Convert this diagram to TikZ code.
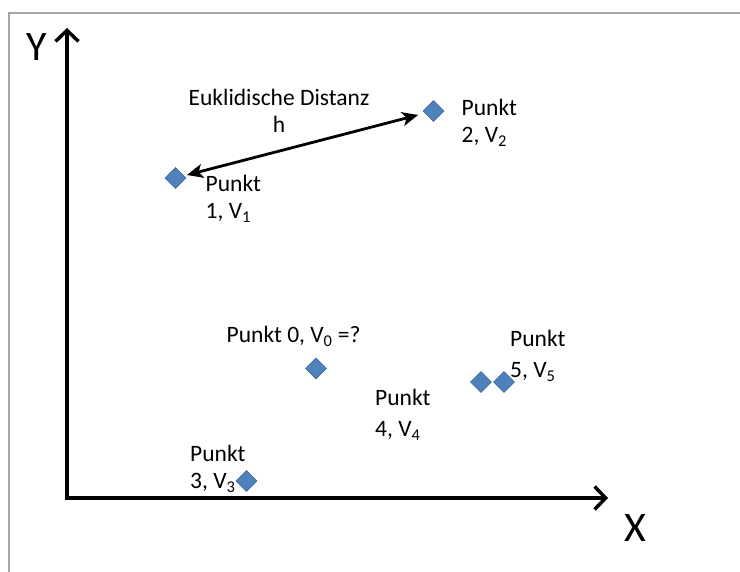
\documentclass[tikz,border=0pt]{standalone}
\usepackage{fontspec}
\setmainfont{Carlito}
\usetikzlibrary{arrows.meta,shapes.geometric}
\definecolor{pblue}{HTML}{4F81BD}
\definecolor{rahmen}{HTML}{A6A6A6}
\tikzset{
	punkt/.style={diamond,fill=pblue,draw=pblue!85!black,line width=0.6pt,inner sep=0pt,minimum size=21pt},
	lbl/.style={font=\fontsize{23.5}{27.5}\selectfont,inner sep=0pt,align=left,anchor=base west},
	lblweit/.style={lbl,font=\fontsize{23.5}{32}\selectfont},
	achse/.style={line width=3.5pt,line join=miter,{Straight Barb[length=11pt,width=23pt]}-{Straight Barb[length=11pt,width=23pt]}},
	achslbl/.style={font=\fontsize{42}{42}\selectfont,inner sep=0pt}
}

\begin{document}
\begin{tikzpicture}[x=1pt,y=-1pt]
				\useasboundingbox (0,0) rectangle (740,572);
				\draw[rahmen,line width=2pt] (8.7,572) -- (8.7,13) -- (740,13);
				\coordinate (ursprung) at (67,498);
				\coordinate (yspitze) at (67,28);
				\coordinate (xspitze) at (608,498);
				\draw[achse] (yspitze) -- (ursprung) -- (xspitze);
				\node[achslbl] (ylbl) at (37,47) {Y};
				\node[achslbl] (xlbl) at (635.5,528.5) {X};
				\node[punkt] (p1) at (175.5,178) {};
				\node[punkt] (p2) at (433.5,111) {};
				\node[punkt] (p0) at (316,368.5) {};
				\node[punkt] (p4) at (481,382) {};
				\node[punkt] (p5) at (504,382) {};
				\node[punkt] (p3) at (246.5,481) {};
				\draw[line width=2.8pt,{Stealth[length=16pt,width=14pt,inset=4pt]}-{Stealth[length=16pt,width=14pt,inset=4pt]},shorten <=3pt,shorten >=7pt] (p1) -- (p2);
				\node[lbl,align=center,anchor=base] (dist) at (279,133) {Euklidische Distanz\\h};
				\node[lbl] (l2) at (461.5,143) {Punkt\\2, V\textsubscript{2}};
				\node[lbl] (l1) at (205.5,219) {Punkt\\1, V\textsubscript{1}};
				\node[lbl] (l0) at (226.5,343) {Punkt 0, V\textsubscript{0} =?};
				\node[lblweit] (l5) at (510,378) {Punkt\\5, V\textsubscript{5}};
				\node[lblweit] (l4) at (375,437) {Punkt\\4, V\textsubscript{4}};
				\node[lbl] (l3) at (190,489) {Punkt\\3, V\textsubscript{3}};
			\end{tikzpicture}
\end{document}
